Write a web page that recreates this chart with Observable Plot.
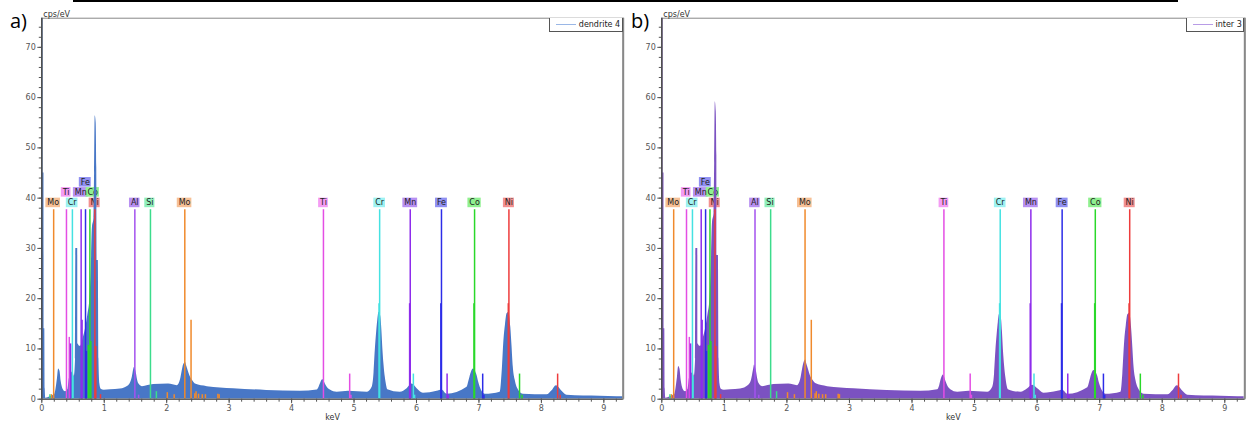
<!DOCTYPE html>
<html><head><meta charset="utf-8">
<script src="https://cdn.jsdelivr.net/npm/d3@7"></script>
<script src="https://cdn.jsdelivr.net/npm/@observablehq/plot@0.6"></script>
<style>
html,body{margin:0;padding:0;background:#fff;}
#root{position:relative;width:1246px;height:423px;overflow:hidden;font-family:"DejaVu Sans";}
.panel{position:absolute;top:0;}
.tag{position:absolute;font-family:"Open Sans";font-size:20px;line-height:1;color:#000;}
.bar{position:absolute;left:73px;top:0;width:1105px;height:2.4px;background:#000;}
.legend{position:absolute;top:17.7px;height:14px;border:1px solid #555;border-top:none;background:#fff;box-sizing:border-box;font:8px "DejaVu Sans";color:#222;}
.legend .sw{position:absolute;top:6px;height:0;border-top:1px solid;}
.legend .tx{position:absolute;top:2px;white-space:nowrap;}
</style></head><body>
<div id="root"></div>
<script>
// ---- data ----
const panelTags = ["a)", "b)"];
const seriesNames = ["dendrite 4", "inter 3"];
const seriesColors = ["#4877c6", "#7b52c1"];
const legendColors = ["#9ab7e6", "#b89ce6"];

const energy = [0,0.02,0.022,0.035,0.037,0.048,0.055,0.065,0.1,0.15,
  0.2,0.22,0.25,0.27,0.29,0.31,0.34,0.38,0.42,0.44,
  0.47,0.5,0.52,0.54,0.545,0.575,0.58,0.62,0.66,0.7,
  0.74,0.77,0.79,0.81,0.835,0.845,0.855,0.87,0.88,0.885,
  0.905,0.915,0.93,0.95,1.0,1.1,1.26,1.39,1.43,1.45,
  1.47,1.483,1.50,1.515,1.53,1.55,1.61,1.79,2.03,2.17,
  2.22,2.25,2.27,2.3,2.32,2.34,2.38,2.42,2.46,2.65,
  3.07,3.6,4.14,4.41,4.44,4.46,4.48,4.5,4.52,4.54,
  4.57,4.62,4.73,4.91,5.21,5.29,5.32,5.34,5.36,5.38,
  5.4,5.415,5.43,5.445,5.46,5.48,5.5,5.52,5.54,5.74,
  5.85,5.93,6.01,6.11,6.33,6.41,6.49,6.81,6.84,6.87,
  6.91,6.94,6.97,6.995,7.02,7.1,7.34,7.37,7.4,7.425,
  7.45,7.48,7.51,7.53,7.55,7.58,7.61,7.71,8.09,8.17,
  8.24,8.27,8.33,8.41,8.94,9.21,9.31];
const countsA = [76,76,45,45,14,14,2,0.2,0.3,0.6,
  0.8,1.5,4,6,5.6,3.5,2,1.5,2,4,
  5,5.5,4.5,8,30,30,11,10.5,12,14,
  17,20,25,34,36,45,56.4,55,46,27.6,
  27.6,8,3,2,1.8,1.9,2.05,2.7,3.5,4.4,
  5.8,6.3,5.9,5.1,4.0,3.1,2.5,2.9,3.0,2.7,
  3.8,5.7,6.8,7.3,6.6,5.8,4.4,3.6,3.0,2.5,
  2.1,1.75,1.6,1.85,2.4,3.0,3.6,3.85,3.6,3.0,
  2.4,1.85,1.4,1.6,1.4,2.4,5.2,9.7,13,15.7,
  17.3,17.0,16.3,13.8,10.3,6.8,4.4,2.8,1.9,1.4,
  2.1,3.0,2.1,1.2,1.6,1.85,1.0,2.4,3.6,5.0,
  6.0,5.6,4.7,3.4,2.4,1.0,1.4,5.1,11.7,14.8,
  17.0,17.3,14.3,10.5,6.4,3.8,2.4,1.0,0.9,1.7,
  2.7,2.5,1.6,0.8,0.6,0.5,0.5];
const countsB = [76,76,45,45,14,14,2,0.2,0.3,0.6,
  0.8,1.6,4.3,6.5,6.0,3.7,2,1.5,2,4,
  5,5.3,4.5,8,30,30,11,10.5,12,14,
  17,20,26,35,37,47,59.2,57.2,48.4,28.6,
  28.6,8,3,2,1.8,1.9,2.05,2.8,3.6,4.7,
  6.1,6.8,6.2,5.4,4.2,3.2,2.5,2.9,3.0,2.7,
  3.9,5.9,7.1,7.8,6.9,6.1,4.5,3.7,3.1,2.5,
  2.1,1.75,1.6,1.9,2.6,3.6,4.4,4.8,4.4,3.6,
  2.7,1.9,1.4,1.6,1.4,2.4,5.1,9.5,12.7,15.3,
  16.9,16.6,16.0,13.5,10.0,6.6,4.3,2.7,1.9,1.4,
  2.1,2.8,2.1,1.2,1.6,1.8,1.0,2.3,3.4,4.8,
  5.7,5.3,4.5,3.2,2.3,1.0,1.4,5.0,11.5,14.6,
  16.8,17.1,14.1,10.3,6.3,3.7,2.4,1.0,0.9,1.7,
  2.7,2.5,1.6,0.8,0.6,0.5,0.5];

const lineEl  = ["Mo","Mo","Mo","Mo","Mo","Mo","Mo","Mo","Mo","Mo","Mo","Mo","Mo",
                 "Ti","Ti","Ti","Ti","Ti",
                 "Cr","Cr","Cr","Cr","Cr","Cr",
                 "Mn","Mn","Mn","Mn","Mn","Mn","Mn",
                 "Fe","Fe","Fe","Fe","Fe","Fe",
                 "Co","Co","Co","Co","Co","Co","Co",
                 "Ni","Ni","Ni","Ni","Ni","Ni","Ni",
                 "Al","Al","Si","Si","Si"];
const lineKeV = [0.19,0.155,2.29,2.39,2.01,2.12,2.45,2.47,2.51,2.57,2.62,2.82,2.84,
                 0.395,0.44,4.51,4.93,4.95,
                 0.49,0.50,5.41,5.40,5.95,5.97,
                 0.63,0.645,0.46,5.90,5.89,6.49,6.51,
                 0.70,0.715,6.40,6.39,7.06,7.08,
                 0.77,0.785,0.745,6.93,6.92,7.65,7.69,
                 0.85,0.865,0.94,7.48,7.47,8.26,8.30,
                 1.49,1.55,1.74,1.835,0.13];
const lineH   = [37.7,0.9,37.7,15.7,1.3,0.9,1.1,1.5,1.0,0.9,0.9,1.0,0.9,
                 37.7,12.3,37.7,5.0,0.8,
                 37.7,4.5,37.7,19,5.0,0.8,
                 37.7,15.7,11,37.7,19,5.0,0.8,
                 37.7,9.5,37.7,19,5.0,0.8,
                 37.7,11.5,10.7,37.7,19,5.0,0.8,
                 37.7,10.5,0.9,37.7,19,5.0,0.8,
                 37.7,0.8,37.7,1.5,0.9];

const labelName = ["Mo","Ti","Cr","Mn","Fe","Co","Ni","Al","Si","Mo","Ti","Cr","Mn","Fe","Co","Ni"];
const labelKeV  = [0.182,0.39,0.486,0.624,0.696,0.815,0.846,1.488,1.73,2.286,4.51,5.41,5.90,6.40,6.93,7.48];
const labelRow  = [1,2,1,2,3,2,1,1,1,1,1,1,1,1,1,1];
const rowBottom = [38.1, 40.2, 42.2];

const elLine = {Mo:"#f08a2c", Ti:"#e44ee4", Cr:"#44e2e2", Mn:"#8e2cec", Fe:"#2c2ce8", Co:"#2ad82a", Ni:"#ee3c3c", Al:"#a452ee", Si:"#3cdc8c"};
const elFill = {Mo:"#f6c096", Ti:"#f49cf4", Cr:"#9ef2f2", Mn:"#b890f2", Fe:"#9090f2", Co:"#90f090", Ni:"#f29090", Al:"#b890f2", Si:"#90f0bc"};

const yTicks = [0,10,20,30,40,50,60,70];
const yMinor = d3.range(0, 76, 2);
const xTicks = [0,1,2,3,4,5,6,7,8,9];
const xMinor = d3.range(0, 9.3, 0.2);

// ---- drawing ----
const ctx = document.createElement("canvas").getContext("2d");
ctx.font = "8px 'DejaVu Sans'";

function makePanel(counts, color, xMax, width, mR) {
  const mL = 41.3;
  const plotW = width - mL - mR;
  const kpp = xMax / plotW;
  const spec = energy.map((e, i) => ({e, c: counts[i]}));
  const lines = lineKeV.map((e, i) => ({e, h: lineH[i], el: lineEl[i]}));
  const labels = labelName.map((n, i) => ({n, e: labelKeV[i], row: labelRow[i],
      hw: (ctx.measureText(n).width / 2 + 1.4) * kpp}));
  return Plot.plot({
    width, height: 423,
    marginLeft: mL, marginRight: mR, marginTop: 17.7, marginBottom: 24.3,
    x: {domain: [0, xMax]},
    y: {domain: [0, 75.8]},
    style: {background: "transparent", overflow: "visible", fontFamily: "DejaVu Sans", fontSize: "8px"},
    marks: [
      Plot.rect(labels, {x1: d => d.e - d.hw, x2: d => d.e + d.hw,
        y1: d => rowBottom[d.row - 1], y2: d => rowBottom[d.row - 1] + 1.9,
        fill: d => elFill[d.n]}),
      Plot.text(labels, {x: "e", y: d => rowBottom[d.row - 1] + 0.95, text: "n",
        fill: "#222", fontSize: 8, fontFamily: "DejaVu Sans"}),
      Plot.areaY(spec, {x: "e", y: "c", fill: color, clip: true, curve: "monotone-x"}),
      Plot.ruleX(lines, {x: "e", y1: 0, y2: "h", stroke: d => elLine[d.el], strokeWidth: 1.5}),
      Plot.frame({stroke: "#888"}),
      Plot.ruleX([xMax], {stroke: "#888", strokeWidth: 2}),
      Plot.ruleY([0], {stroke: "#444"}),
      Plot.ruleX([0], {stroke: "#444", strokeWidth: 1.3}),
      Plot.axisY(yTicks, {tickSize: 4, tickPadding: 2, color: "#555", fontSize: 8, label: null}),
      Plot.axisY(yMinor, {tickSize: 2.5, tickFormat: () => "", color: "#555", label: null}),
      Plot.axisX(xTicks, {tickSize: 4.5, tickPadding: 2, color: "#555", fontSize: 8, label: null}),
      Plot.axisX(xMinor, {tickSize: 3, tickFormat: () => "", color: "#555", label: null}),
      Plot.text(["cps/eV"], {text: d => d, frameAnchor: "top-left", dx: 1.5, dy: -1.5,
        textAnchor: "start", lineAnchor: "bottom", fill: "#333", fontSize: 8}),
      Plot.text(["keV"], {text: d => d, frameAnchor: "bottom", dy: 15.5,
        lineAnchor: "top", fill: "#333", fontSize: 8})
    ]
  });
}

const root = document.getElementById("root");
const specs = [
  {counts: countsA, left: 0, width: 624, mR: 1.3, xMax: 9.31, tagLeft: 10, legLeft: 549.3, legW: 74, swL: 5.5, swW: 20, txL: 28.5},
  {counts: countsB, left: 620, width: 626, mR: 1.7, xMax: 9.32, tagLeft: 631, legLeft: 1186, legW: 58.3, swL: 5.5, swW: 20, txL: 28.5}
];
specs.forEach((s, i) => {
  const wrap = document.createElement("div");
  wrap.className = "panel";
  wrap.style.left = s.left + "px";
  wrap.appendChild(makePanel(s.counts, seriesColors[i], s.xMax, s.width, s.mR));
  root.appendChild(wrap);

  const leg = document.createElement("div");
  leg.className = "legend";
  leg.style.left = s.legLeft + "px";
  leg.style.width = s.legW + "px";
  const sw = document.createElement("div");
  sw.className = "sw";
  sw.style.left = s.swL + "px"; sw.style.width = s.swW + "px"; sw.style.borderColor = legendColors[i];
  const tx = document.createElement("div");
  tx.className = "tx"; tx.style.left = s.txL + "px"; tx.textContent = seriesNames[i];
  leg.appendChild(sw); leg.appendChild(tx);
  root.appendChild(leg);

  const tag = document.createElement("div");
  tag.className = "tag";
  tag.style.left = s.tagLeft + "px";
  tag.style.top = "11px";
  tag.textContent = panelTags[i];
  root.appendChild(tag);
});
const bar = document.createElement("div");
bar.className = "bar";
root.appendChild(bar);
</script>
</body></html>
